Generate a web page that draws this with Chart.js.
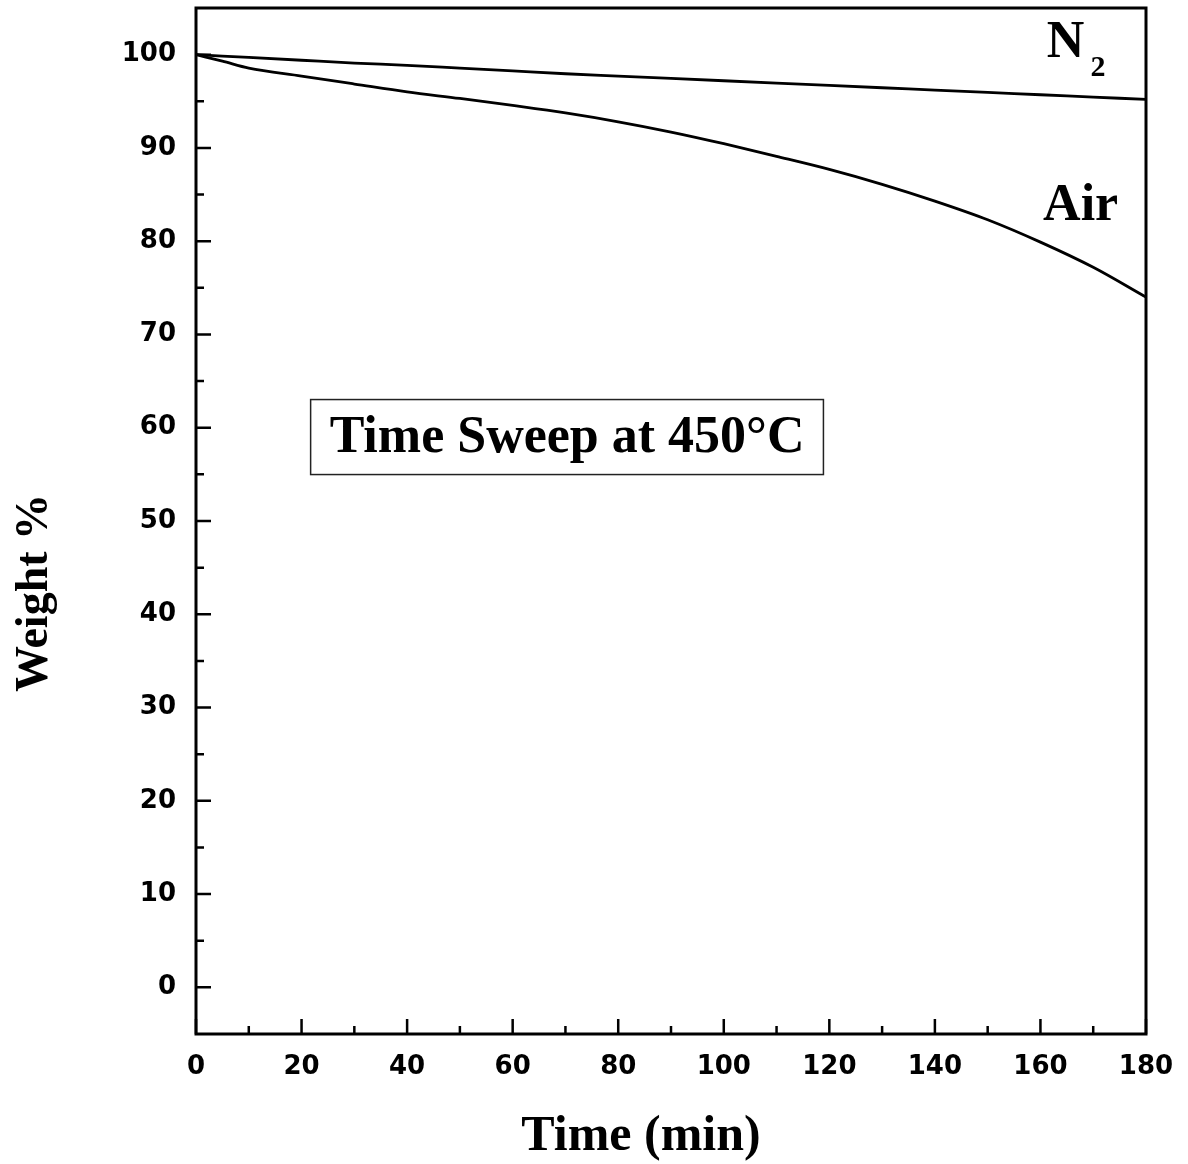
<!DOCTYPE html>
<html>
<head>
<meta charset="utf-8">
<title>Time Sweep at 450°C</title>
<script src="https://cdn.jsdelivr.net/npm/chart.js@4.4.1/dist/chart.umd.min.js"></script>
<style>
  html, body { margin: 0; padding: 0; background: #fff; }
  canvas { display: block; }
</style>
</head>
<body>
<canvas id="tga" width="1188" height="1164"></canvas>
<script>
// time (min) and weight %
const timeMin   = [0, 5, 10, 20, 30, 40, 50, 60, 70, 80, 90, 100, 110, 120, 130, 140, 150, 160, 170, 180];
const weightN2  = [100, 99.85, 99.7, 99.4, 99.1, 98.85, 98.55, 98.25, 97.95, 97.7, 97.45, 97.2, 96.95, 96.7, 96.45, 96.2, 95.95, 95.7, 95.45, 95.2];
const weightAir = [100, 99.3, 98.55, 97.7, 96.85, 96.0, 95.3, 94.55, 93.75, 92.8, 91.7, 90.45, 89.1, 87.7, 86.1, 84.3, 82.3, 79.9, 77.2, 74.0];

const xTicks = [0, 20, 40, 60, 80, 100, 120, 140, 160, 180];
const xMinor = [10, 30, 50, 70, 90, 110, 130, 150, 170];
const yTicks = [0, 10, 20, 30, 40, 50, 60, 70, 80, 90, 100];
const yMinor = [5, 15, 25, 35, 45, 55, 65, 75, 85, 95];

const noteText = 'Time Sweep at 450°C';
const xTitle = 'Time (min)';
const yTitle = 'Weight %';

const toPoints = (ys) => timeMin.map((t, i) => ({ x: t, y: ys[i] }));

const serif = '"Liberation Serif", "Times New Roman", serif';

// inward ticks, frame, labels and annotation box
const decorations = {
    id: 'decorations',
    afterDatasetsDraw(chart) {
        const { ctx, chartArea: a, scales: { x, y } } = chart;
        ctx.save();
        ctx.strokeStyle = '#000';
        ctx.fillStyle = '#000';

        ctx.lineWidth = 2.5;
        ctx.beginPath();
        yTicks.forEach(v => { const p = y.getPixelForValue(v); ctx.moveTo(a.left, p); ctx.lineTo(a.left + 15, p); });
        yMinor.forEach(v => { const p = y.getPixelForValue(v); ctx.moveTo(a.left, p); ctx.lineTo(a.left + 8, p); });
        xTicks.forEach(v => { const p = x.getPixelForValue(v); ctx.moveTo(p, a.bottom); ctx.lineTo(p, a.bottom - 15); });
        xMinor.forEach(v => { const p = x.getPixelForValue(v); ctx.moveTo(p, a.bottom); ctx.lineTo(p, a.bottom - 8); });
        ctx.stroke();

        ctx.lineWidth = 3;
        ctx.strokeRect(a.left, a.top, a.right - a.left, a.bottom - a.top);

        // annotation box
        ctx.font = 'bold 52px ' + serif;
        ctx.textAlign = 'center';
        ctx.textBaseline = 'middle';
        const cx = x.getPixelForValue(70.3);
        const cy = y.getPixelForValue(59);
        const w = ctx.measureText(noteText).width + 38;
        const h = 75;
        ctx.lineWidth = 1.5;
        ctx.strokeStyle = '#222';
        ctx.strokeRect(cx - w / 2, cy - h / 2, w, h);
        ctx.fillText(noteText, cx, cy + 2);

        // series labels
        ctx.textAlign = 'left';
        ctx.textBaseline = 'alphabetic';
        ctx.font = 'bold 52px ' + serif;
        ctx.fillText('N', x.getPixelForValue(161.2), y.getPixelForValue(99.7));
        ctx.fillText('Air', x.getPixelForValue(160.5), y.getPixelForValue(82.3));
        ctx.font = 'bold 30px ' + serif;
        ctx.fillText('2', x.getPixelForValue(169.5), y.getPixelForValue(97.75));

        // axis titles
        ctx.textAlign = 'center';
        ctx.font = 'bold 50px ' + serif;
        ctx.fillText(xTitle, 641, 1150);
        ctx.translate(47, 593);
        ctx.rotate(-Math.PI / 2);
        ctx.font = 'bold 46px ' + serif;
        ctx.fillText(yTitle, 0, 0);
        ctx.restore();
    }
};

const tickFont = { family: '"DejaVu Sans", Verdana, sans-serif', size: 26, weight: 'bold' };

new Chart(document.getElementById('tga').getContext('2d'), {
    type: 'line',
    data: {
        datasets: [
            { label: 'N2', data: toPoints(weightN2), borderColor: '#000', borderWidth: 2.8, pointRadius: 0, cubicInterpolationMode: 'monotone' },
            { label: 'Air', data: toPoints(weightAir), borderColor: '#000', borderWidth: 2.8, pointRadius: 0, cubicInterpolationMode: 'monotone' },
        ],
    },
    options: {
        responsive: false,
        animation: false,
        layout: { padding: { top: 8, right: 42, left: 0, bottom: 0 } },
        plugins: { legend: { display: false }, tooltip: { enabled: false } },
        scales: {
            x: {
                type: 'linear',
                min: 0,
                max: 180,
                grid: { display: false, drawTicks: false },
                border: { display: false },
                afterBuildTicks: (s) => { s.ticks = xTicks.map(v => ({ value: v })); },
                afterFit: (s) => { s.height = 130; s.paddingLeft = 0; s.paddingRight = 0; },
                ticks: { color: '#000', font: tickFont, padding: 18, maxRotation: 0, autoSkip: false },
            },
            y: {
                min: -5,
                max: 105,
                grid: { display: false, drawTicks: false },
                border: { display: false },
                afterBuildTicks: (s) => { s.ticks = yTicks.map(v => ({ value: v })); },
                afterFit: (s) => { s.width = 196; s.paddingTop = 0; s.paddingBottom = 0; },
                ticks: { color: '#000', font: tickFont, padding: 20, autoSkip: false },
            },
        },
    },
    plugins: [decorations],
});
</script>
</body>
</html>
